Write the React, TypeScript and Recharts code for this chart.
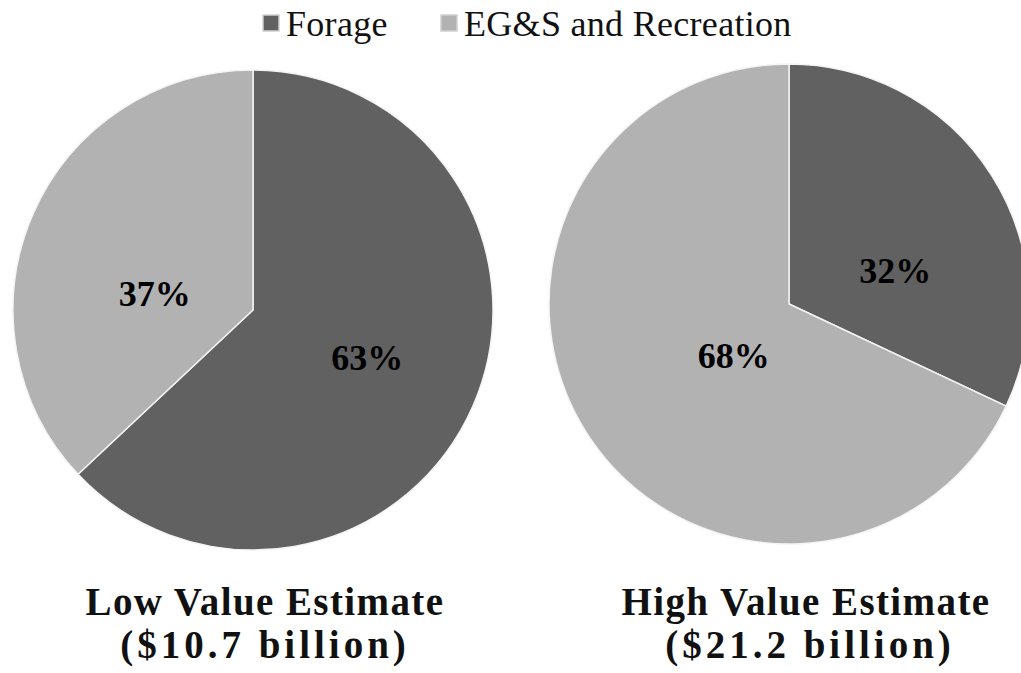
import React from 'react';
import { PieChart, Pie, Cell } from 'recharts';

const SEGMENTS = ['Forage', 'EG&S and Recreation'];
const LOW_VALUES = [63, 37];
const HIGH_VALUES = [32, 68];
const PANEL_TITLES = ['Low Value Estimate', 'High Value Estimate'];
const PANEL_TOTALS = ['($10.7 billion)', '($21.2 billion)'];

const COLORS = ['#616161', '#b2b2b2'];
const FONT = "'Liberation Serif', 'Times New Roman', serif";
const W = 1021;
const H = 673;
const RAD = Math.PI / 180;

const lowData = SEGMENTS.map((name, i) => ({ name, value: LOW_VALUES[i] }));
const highData = SEGMENTS.map((name, i) => ({ name, value: HIGH_VALUES[i] }));

// label nudges (style), relative to the mid-radius point of each slice
const LOW_NUDGE = [[4, 0], [12, 32]];
const HIGH_NUDGE = [[5, 31], [46, -12]];

const makeLabel = (nudge: number[][]) => (props: any) => {
  const { cx, cy, midAngle, outerRadius, index, value } = props;
  const r = outerRadius * 0.5;
  const x = cx + r * Math.cos(-midAngle * RAD) + nudge[index][0];
  const y = cy + r * Math.sin(-midAngle * RAD) + nudge[index][1];
  return (
    <text
      x={x}
      y={y}
      textAnchor="middle"
      dominantBaseline="central"
      fill="#000"
      fontFamily={FONT}
      fontWeight="bold"
      fontSize={36}
    >
      {`${value}%`}
    </text>
  );
};

const PANELS = [
  { cx: 253, cy: 310, titleX: 265, totalX: 265 },
  { cx: 789, cy: 304, titleX: 806, totalX: 810 },
];

const LEGEND_X = [263, 441];

export default function App() {
  return (
    <div style={{ position: 'absolute', left: 0, top: 0, width: W, height: H, background: '#fff' }}>
      <PieChart width={W} height={H} margin={{ top: 0, right: 0, bottom: 0, left: 0 }}>
        <Pie
          data={lowData}
          dataKey="value"
          nameKey="name"
          cx={PANELS[0].cx}
          cy={PANELS[0].cy}
          outerRadius={240}
          startAngle={90}
          endAngle={-270}
          stroke="#f4f4f4"
          strokeWidth={1.5}
          label={makeLabel(LOW_NUDGE)}
          labelLine={false}
          isAnimationActive={false}
        >
          {lowData.map((d, i) => (
            <Cell key={d.name} fill={COLORS[i]} />
          ))}
        </Pie>
        <Pie
          data={highData}
          dataKey="value"
          nameKey="name"
          cx={PANELS[1].cx}
          cy={PANELS[1].cy}
          outerRadius={240}
          startAngle={90}
          endAngle={-270}
          stroke="#f4f4f4"
          strokeWidth={1.5}
          label={makeLabel(HIGH_NUDGE)}
          labelLine={false}
          isAnimationActive={false}
        >
          {highData.map((d, i) => (
            <Cell key={d.name} fill={COLORS[i]} />
          ))}
        </Pie>
      </PieChart>
      <svg
        width={W}
        height={H}
        style={{ position: 'absolute', left: 0, top: 0, pointerEvents: 'none' }}
      >
        {SEGMENTS.map((name, i) => (
          <g key={name}>
            <rect
              x={LEGEND_X[i]}
              y={15}
              width={16}
              height={16}
              fill={COLORS[i]}
              stroke="#d0d0d0"
              strokeWidth={1.5}
            />
            <text
              x={LEGEND_X[i] + 23}
              y={36}
              fontFamily={FONT}
              fontSize={36}
              letterSpacing={0.3}
              fill="#111"
            >
              {name}
            </text>
          </g>
        ))}
        {PANEL_TITLES.map((t, i) => (
          <g key={t}>
            <text
              x={PANELS[i].titleX}
              y={615}
              textAnchor="middle"
              fontFamily={FONT}
              fontWeight="bold"
              fontSize={39}
              letterSpacing={1.4}
              fill="#111"
            >
              {t}
            </text>
            <text
              x={PANELS[i].totalX}
              y={658}
              textAnchor="middle"
              fontFamily={FONT}
              fontWeight="bold"
              fontSize={39}
              letterSpacing={4}
              fill="#111"
            >
              {PANEL_TOTALS[i]}
            </text>
          </g>
        ))}
      </svg>
    </div>
  );
}
